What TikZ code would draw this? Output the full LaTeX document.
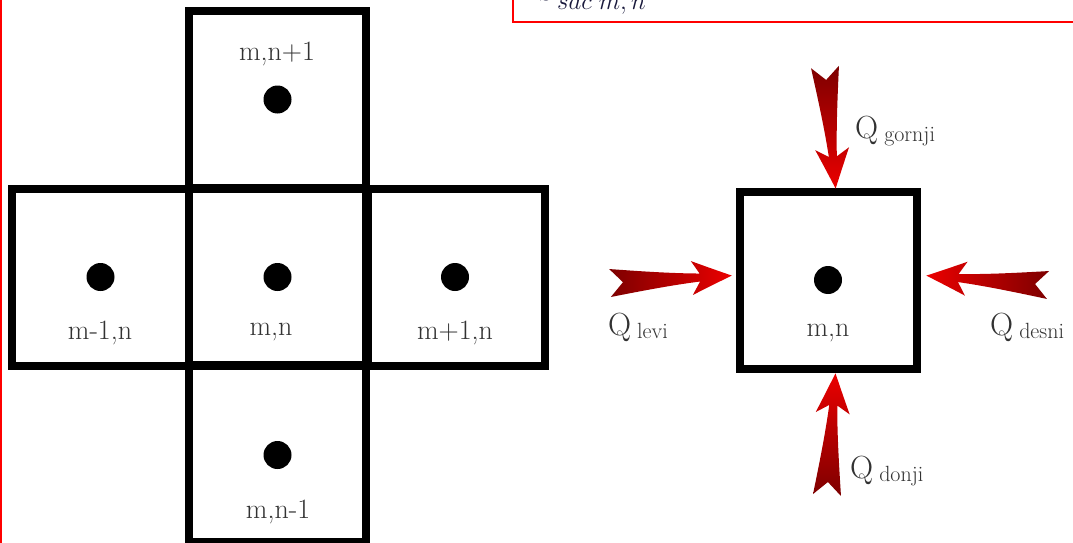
\documentclass[tikz,border=0pt]{standalone}
\usetikzlibrary{calc}
\definecolor{qdark}{RGB}{125,0,0}
\definecolor{qred}{RGB}{235,0,0}
\definecolor{txt}{RGB}{50,50,50}
\definecolor{frm}{RGB}{25,25,60}
\tikzset{
  cell/.style={draw, line width=8pt, minimum size=177pt, inner sep=0pt, outer sep=0pt},
  lab/.style={anchor=base, text=txt, font=\fontsize{28}{30}\selectfont, inner sep=0pt},
  qlab/.style={anchor=base west, text=txt, font=\fontsize{32}{34}\selectfont, inner sep=0pt},
  dotc/.style={circle, fill=black, minimum size=28pt, inner sep=0pt},
}
\newcommand\qsub[1]{\hspace{6pt}\raisebox{-3pt}{\fontsize{22}{24}\selectfont #1}}
\newcommand\qarrow[3]{%
  \path let \p1=($(#2)-(#1)$) in \pgfextra{%
    \pgfmathsetmacro\qangtmp{atan2(\y1,\x1)}%
    \xdef\qang{\qangtmp}};
  \begin{scope}[shift={(#1)}, rotate=\qang]
    \shade[#3]
      (13,0) -- (0,14) .. controls (30,10) and (60,6) .. (90,4)
      -- (82,17) .. controls (98,10) and (110,5) .. (122,0)
      .. controls (110,-5) and (98,-10) .. (82,-17)
      -- (90,-4) .. controls (60,-6) and (30,-10) .. (0,-14) -- cycle;
  \end{scope}}
\begin{document}
\begin{tikzpicture}[x=1pt, y=-1pt]
\useasboundingbox (0,0) rectangle (1073,543);
\clip (0,0) rectangle (1073,543);
\fill[white] (0,0) rectangle (1073,543);

% top formula box (cut off)
\draw[red, line width=2.5pt] (513,-60) rectangle (1120,22);
\node[anchor=base west, inner sep=0pt, text=frm, font=\fontsize{37}{40}\selectfont] (formula) at (557,10)
  {\llap{\raisebox{9pt}{\fontsize{56}{60}\selectfont$S$}\hspace{2pt}}$sac\;m,n$};
% left red rule
\draw[red, line width=2pt] (1,0) -- (1,543);

% cross of cells
\node[cell] (c) at (277.5,277) {};
\node[cell] (t) at (277.5,99.5) {};
\node[cell] (b) at (277.5,453) {};
\node[cell] (l) at (100.5,277) {};
\node[cell] (r) at (456,277) {};

\node[dotc] (dt) at (t) {};
\node[dotc] (dc) at (c) {};
\node[dotc] (db) at ([yshift=-2pt]b.center) {};
\node[dotc] (dl) at (l) {};
\node[dotc] (dr) at ([xshift=-1pt]r.center) {};

\node[lab] (lt) at (277,60) {m,n+1};
\node[lab] (ll) at (100,339) {m-1,n};
\node[lab] (lc) at (271,335) {m,n};
\node[lab] (lr) at (455,339) {m+1,n};
\node[lab] (lb) at (278,518) {m,n-1};

% single cell with fluxes
\node[cell] (box) at (828.5,280.5) {};
\node[dotc] (dbox) at (828,280) {};
\node[lab] (lbox) at (828,336) {m,n};

\coordinate (tailT) at (825,67);
\coordinate (tipT) at ([xshift=7pt,yshift=5pt]box.north);
\coordinate (tailL) at (610,283);
\coordinate (tipL) at ([xshift=-7pt,yshift=5pt]box.west);
\coordinate (tailR) at (1048,285);
\coordinate (tipR) at ([xshift=8pt,yshift=5pt]box.east);
\coordinate (tailB) at (827,495);
\coordinate (tipB) at ([xshift=7pt,yshift=-4pt]box.south);

\qarrow{tailT}{tipT}{top color=qdark, bottom color=qred}
\qarrow{tailL}{tipL}{left color=qdark, right color=qred}
\qarrow{tailR}{tipR}{left color=qred, right color=qdark}
\qarrow{tailB}{tipB}{top color=qred, bottom color=qdark}

\node[qlab] (qg) at (855,138) {Q\qsub{gornji}};
\node[qlab] (ql) at (608,335) {Q\qsub{levi}};
\node[qlab] (qd) at (990,335) {Q\qsub{desni}};
\node[qlab] (qn) at (850,478) {Q\qsub{donji}};
\end{tikzpicture}
\end{document}
